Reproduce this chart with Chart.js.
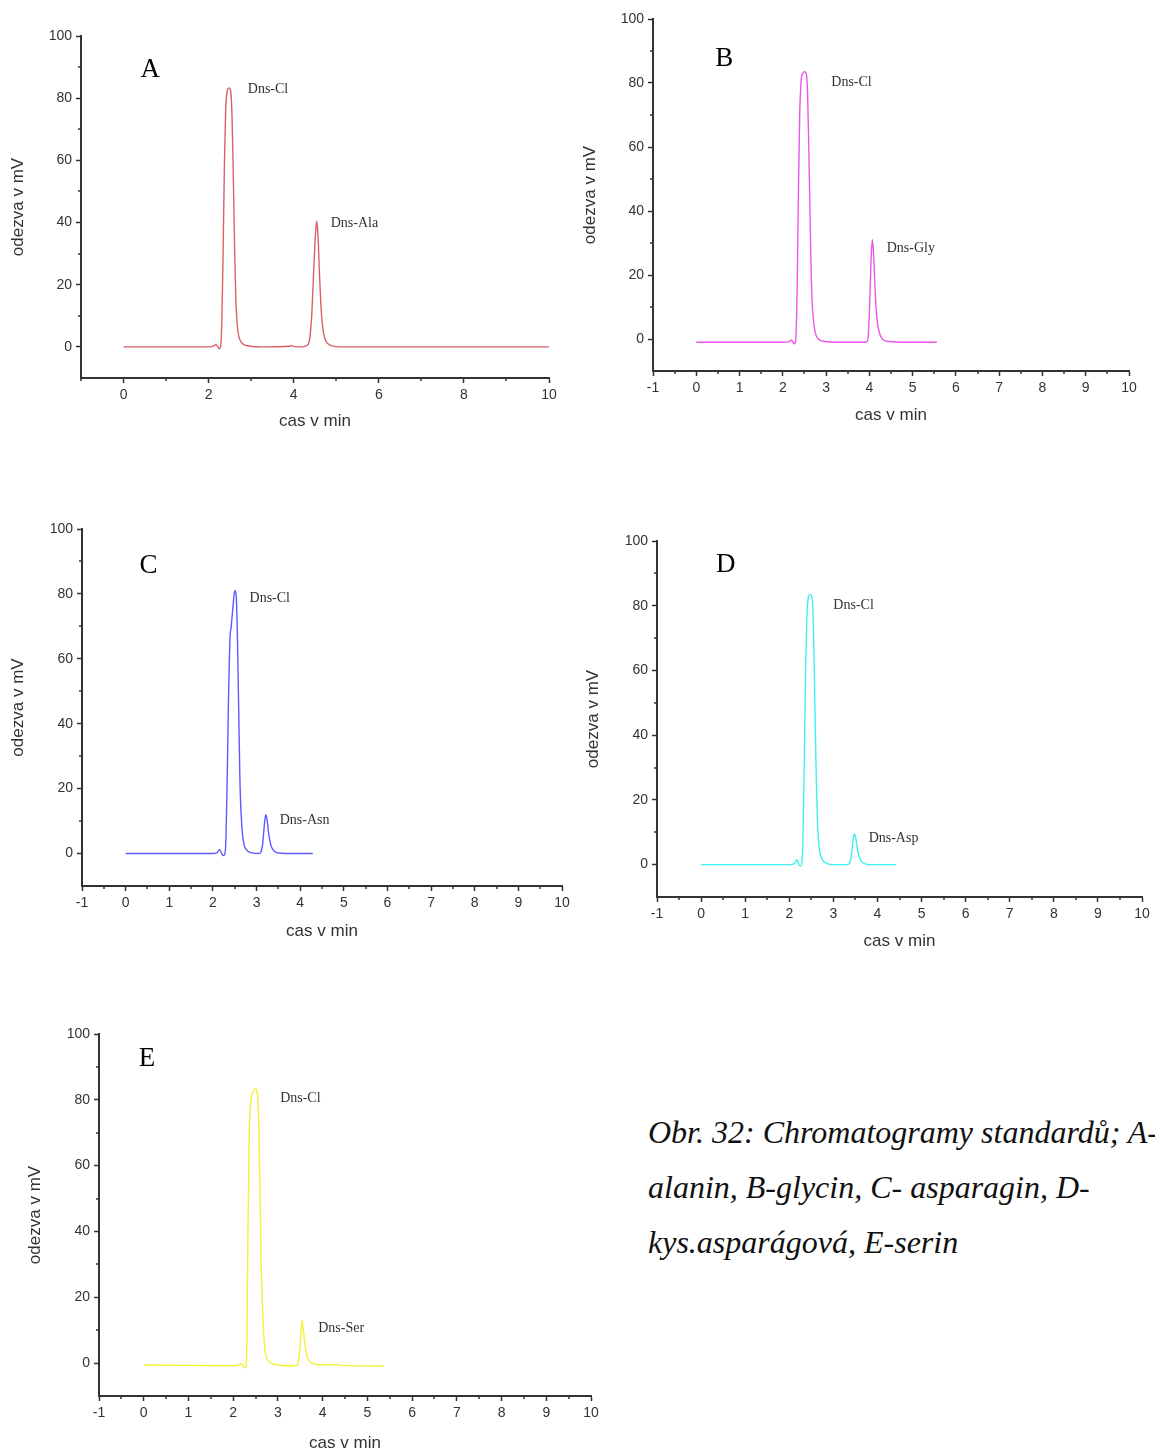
<!DOCTYPE html>
<html lang="cs">
<head>
<meta charset="utf-8">
<title>Chromatogramy standardů</title>
<script src="https://cdn.jsdelivr.net/npm/chart.js@4.4.1/dist/chart.umd.min.js"></script>
<style>
  html, body { margin: 0; padding: 0; background: #fff; width: 1155px; height: 1454px; overflow: hidden; }
  .panel { position: absolute; }
  .caption {
    position: absolute; left: 648px; top: 1105px;
    font-family: "Liberation Serif", "Times New Roman", serif; font-style: italic;
    font-size: 32px; line-height: 55px; color: #111; white-space: nowrap;
  }
</style>
</head>
<body>
<div class="panel" id="panelA"><canvas id="chartA"></canvas></div>
<div class="panel" id="panelB"><canvas id="chartB"></canvas></div>
<div class="panel" id="panelC"><canvas id="chartC"></canvas></div>
<div class="panel" id="panelD"><canvas id="chartD"></canvas></div>
<div class="panel" id="panelE"><canvas id="chartE"></canvas></div>
<div class="caption">Obr. 32: Chromatogramy standardů; A-<br>alanin, B-glycin, C- asparagin, D-<br>kys.asparágová, E-serin</div>

<script>
//  Chromatogram traces [time in min, response in mV]
const traceA = [
  [0, 0], [1, 0], [2.0, 0], [2.12, 0.3], [2.17, 0.8], [2.21, 0.2], [2.25, -0.6], [2.28, 0],
  [2.31, 8], [2.34, 30], [2.37, 58], [2.40, 76], [2.44, 82.5], [2.48, 83.3], [2.52, 82],
  [2.55, 74], [2.58, 55], [2.61, 32], [2.64, 15], [2.68, 6], [2.73, 2.5], [2.80, 1],
  [2.95, 0.3], [3.3, 0], [3.9, 0.2], [3.95, 0.5], [4.0, 0.1], [4.2, 0], [4.32, 0.5],
  [4.38, 3], [4.43, 12], [4.48, 28], [4.52, 38], [4.54, 40.5], [4.57, 36], [4.61, 22],
  [4.65, 11], [4.70, 4.5], [4.76, 1.8], [4.85, 0.6], [5.0, 0.1], [5.3, 0], [10, 0]
];
const traceB = [
  [0, -1], [1, -1], [2.0, -1], [2.15, -0.8], [2.2, -0.3], [2.24, -1.2], [2.28, -1.5],
  [2.30, 0], [2.33, 15], [2.36, 45], [2.39, 70], [2.42, 80], [2.46, 83], [2.50, 83.5],
  [2.54, 83], [2.57, 78], [2.60, 60], [2.63, 38], [2.66, 18], [2.70, 7], [2.75, 2],
  [2.82, 0], [2.95, -0.7], [3.3, -1], [3.9, -1], [3.95, -0.8], [3.98, 2], [4.01, 12],
  [4.04, 25], [4.07, 31], [4.10, 26], [4.13, 16], [4.17, 7], [4.22, 2.5], [4.3, 0],
  [4.45, -0.8], [4.8, -1], [5.56, -1]
];
const traceC = [
  [0, 0], [1, 0], [2.0, 0], [2.1, 0.3], [2.15, 1.2], [2.19, 0.4], [2.23, -0.6], [2.27, -0.3],
  [2.30, 5], [2.33, 25], [2.36, 50], [2.39, 66], [2.42, 70], [2.46, 76], [2.50, 81],
  [2.53, 80], [2.56, 68], [2.59, 45], [2.62, 22], [2.66, 9], [2.71, 3], [2.78, 1],
  [2.9, 0.2], [3.05, 0], [3.1, 0.5], [3.14, 3], [3.18, 9], [3.21, 12], [3.24, 10.5],
  [3.28, 6], [3.33, 2.5], [3.40, 0.8], [3.55, 0.1], [4.29, 0]
];
const traceD = [
  [0, 0], [1, 0], [2.05, 0], [2.13, 0.6], [2.18, 1.5], [2.21, 0.3], [2.25, -0.5], [2.28, 0],
  [2.31, 8], [2.34, 32], [2.37, 60], [2.40, 77], [2.44, 83], [2.48, 83.5], [2.52, 82],
  [2.55, 72], [2.58, 50], [2.61, 28], [2.64, 13], [2.68, 5], [2.74, 1.8], [2.85, 0.4],
  [3.0, 0], [3.3, 0], [3.37, 0.5], [3.41, 3], [3.45, 8], [3.48, 9.5], [3.51, 8],
  [3.55, 4.5], [3.60, 1.8], [3.68, 0.5], [3.8, 0], [4.42, 0]
];
const traceE = [
  [0, -0.6], [1, -0.7], [2.0, -0.8], [2.12, -0.6], [2.18, -0.2], [2.22, -0.8], [2.26, -1.5],
  [2.29, -0.5], [2.31, 10], [2.33, 40], [2.36, 70], [2.40, 80], [2.45, 82.5], [2.50, 83.3],
  [2.54, 82], [2.57, 74], [2.60, 52], [2.63, 28], [2.67, 12], [2.71, 4], [2.77, 1],
  [2.85, 0], [3.0, -0.6], [3.3, -0.8], [3.42, -0.8], [3.46, 0.5], [3.50, 6], [3.54, 13],
  [3.57, 10], [3.61, 5], [3.66, 1.8], [3.74, 0.2], [3.9, -0.5], [4.35, -0.5], [4.4, -0.7],
  [5.37, -0.9]
];

//  Tick values
const yTickValues = [0, 20, 40, 60, 80, 100];
const yMinorValues = [10, 30, 50, 70, 90];
const xTicksEven = [0, 2, 4, 6, 8, 10];
const xMinorOdd = [-1, 1, 3, 5, 7, 9];
const xTicksAll = [-1, 0, 1, 2, 3, 4, 5, 6, 7, 8, 9, 10];
const xMinorHalf = [-0.5, 0.5, 1.5, 2.5, 3.5, 4.5, 5.5, 6.5, 7.5, 8.5, 9.5];

//  Texts
const xTitle = "cas v min";
const yTitle = "odezva v mV";
const peakNamesA = ["Dns-Cl", "Dns-Ala"];
const peakNamesB = ["Dns-Cl", "Dns-Gly"];
const peakNamesC = ["Dns-Cl", "Dns-Asn"];
const peakNamesD = ["Dns-Cl", "Dns-Asp"];
const peakNamesE = ["Dns-Cl", "Dns-Ser"];

//  Layout of the five panels (plot box in page pixels, label spots in data units)
const panels = [
  { id: "A", trace: traceA, color: "#dc5f68", box: { left: 81, top: 36, right: 549, bottom: 378 },
    xTicks: xTicksEven, xMinor: xMinorOdd, yTitlePad: 7, xTitlePad: 6,
    names: peakNamesA, spots: [[2.92, 83], [4.87, 39.8]], letterAt: [0.4, 89] },
  { id: "B", trace: traceB, color: "#ec55ea", box: { left: 653, top: 19, right: 1129, bottom: 371 },
    xTicks: xTicksAll, xMinor: xMinorHalf, yTitlePad: 7, xTitlePad: 5,
    names: peakNamesB, spots: [[3.12, 80.3], [4.4, 28.4]], letterAt: [0.44, 87.5] },
  { id: "C", trace: traceC, color: "#5b5bff", box: { left: 82, top: 529, right: 562, bottom: 886 },
    xTicks: xTicksAll, xMinor: xMinorHalf, yTitlePad: 6, xTitlePad: 4,
    names: peakNamesC, spots: [[2.84, 78.5], [3.53, 10.2]], letterAt: [0.32, 88.6] },
  { id: "D", trace: traceD, color: "#3ef0f0", box: { left: 657, top: 541, right: 1142, bottom: 897 },
    xTicks: xTicksAll, xMinor: xMinorHalf, yTitlePad: 6, xTitlePad: 5,
    names: peakNamesD, spots: [[3.0, 80.2], [3.8, 8]], letterAt: [0.34, 92.6] },
  { id: "E", trace: traceE, color: "#f2f23a", box: { left: 99, top: 1034, right: 591, bottom: 1396 },
    xTicks: xTicksAll, xMinor: xMinorHalf, yTitlePad: 6, xTitlePad: 2,
    names: peakNamesE, spots: [[3.05, 80.5], [3.9, 10.6]], letterAt: [-0.11, 92.4] }
];

const AXIS_W = 80;   // room for y ticks + title
const AXIS_H = 60;   // room for x ticks + title
const PAD_TOP = 15;
const PAD_RIGHT = 25;
const INK = "#333";
const SANS = "'Liberation Sans', Arial, sans-serif";
const SERIF = "'Liberation Serif', 'Times New Roman', serif";

//  Short minor ticks + peak names + panel letter
const decorPlugin = {
  id: "decor",
  afterDraw(chart, args, opts) {
    const { ctx, chartArea } = chart;
    const xs = chart.scales.x;
    const ys = chart.scales.y;
    ctx.save();
    ctx.strokeStyle = INK;
    ctx.lineWidth = 1.5;
    ctx.beginPath();
    opts.xMinor.forEach((v) => {
      const px = Math.round(xs.getPixelForValue(v));
      ctx.moveTo(px, chartArea.bottom);
      ctx.lineTo(px, chartArea.bottom + 3);
    });
    opts.yMinor.forEach((v) => {
      const py = Math.round(ys.getPixelForValue(v));
      ctx.moveTo(chartArea.left, py);
      ctx.lineTo(chartArea.left - 3, py);
    });
    ctx.stroke();

    ctx.fillStyle = INK;
    ctx.textAlign = "left";
    ctx.textBaseline = "middle";
    ctx.font = "14px " + SERIF;
    opts.names.forEach((name, i) => {
      const [sx, sy] = opts.spots[i];
      ctx.fillText(name, xs.getPixelForValue(sx), ys.getPixelForValue(sy));
    });

    ctx.fillStyle = "#000";
    ctx.font = "27px " + SERIF;
    ctx.fillText(opts.letter, xs.getPixelForValue(opts.letterAt[0]), ys.getPixelForValue(opts.letterAt[1]));
    ctx.restore();
  }
};

function buildPanel(p) {
  const w = AXIS_W + (p.box.right - p.box.left) + PAD_RIGHT;
  const h = PAD_TOP + (p.box.bottom - p.box.top) + AXIS_H;
  const holder = document.getElementById("panel" + p.id);
  holder.style.left = (p.box.left - AXIS_W) + "px";
  holder.style.top = (p.box.top - PAD_TOP) + "px";
  const canvas = document.getElementById("chart" + p.id);
  canvas.width = w;
  canvas.height = h;
  canvas.style.width = w + "px";
  canvas.style.height = h + "px";

  return new Chart(canvas.getContext("2d"), {
    type: "line",
    data: {
      datasets: [{
        data: p.trace.map(([x, y]) => ({ x, y })),
        borderColor: p.color,
        borderWidth: 1.4,
        pointRadius: 0,
        fill: false,
        cubicInterpolationMode: "monotone"
      }]
    },
    options: {
      responsive: false,
      animation: false,
      events: [],
      layout: { padding: { left: 0, top: PAD_TOP, right: PAD_RIGHT, bottom: 0 } },
      plugins: {
        legend: { display: false },
        tooltip: { enabled: false },
        decor: {
          xMinor: p.xMinor, yMinor: yMinorValues, names: p.names,
          spots: p.spots, letter: p.id, letterAt: p.letterAt
        }
      },
      scales: {
        x: {
          type: "linear",
          min: -1,
          max: 10,
          afterBuildTicks: (s) => { s.ticks = p.xTicks.map((v) => ({ value: v })); },
          afterFit: (s) => { s.height = AXIS_H; },
          ticks: { color: INK, font: { family: SANS, size: 14 }, padding: 4, maxRotation: 0, autoSkip: false },
          grid: { drawOnChartArea: false, drawTicks: true, tickLength: 5, color: INK, tickWidth: 1.5 },
          border: { display: true, color: INK, width: 2 },
          title: { display: true, text: xTitle, color: INK, font: { family: SANS, size: 17 },
                   padding: { top: 0, bottom: p.xTitlePad } }
        },
        y: {
          type: "linear",
          min: -10,
          max: 100,
          afterBuildTicks: (s) => { s.ticks = yTickValues.map((v) => ({ value: v })); },
          afterFit: (s) => { s.width = AXIS_W; },
          ticks: { color: INK, font: { family: SANS, size: 14 }, padding: 4 },
          grid: { drawOnChartArea: false, drawTicks: true, tickLength: 5, color: INK, tickWidth: 1.5 },
          border: { display: true, color: INK, width: 2 },
          title: { display: true, text: yTitle, color: INK, font: { family: SANS, size: 17 },
                   padding: { top: p.yTitlePad, bottom: 0 } }
        }
      }
    },
    plugins: [decorPlugin]
  });
}

panels.forEach(buildPanel);
</script>
</body>
</html>
